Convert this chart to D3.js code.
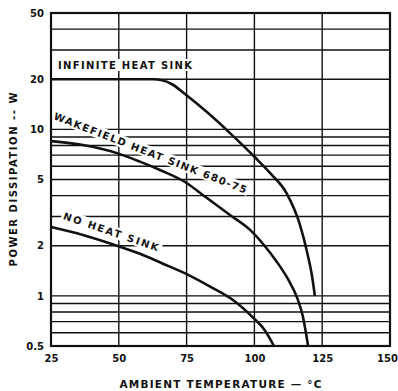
<!DOCTYPE html>
<html>
<head>
<meta charset="utf-8">
<script src="https://cdn.jsdelivr.net/npm/d3@7"></script>
<style>
  html, body { margin: 0; padding: 0; background: #fff; }
  svg { display: block; }
  text { font-family: "DejaVu Sans", "Liberation Sans", sans-serif; font-weight: bold; fill: #111; }
</style>
</head>
<body>
<svg id="chart" width="398" height="391"></svg>
<script>
// Power derating curves for three mounting conditions
const xTicks = [25, 50, 75, 100, 125, 150];
const yTicks = [50, 20, 10, 5, 2, 1, 0.5];
const yGrid = [50, 40, 30, 20, 10, 9, 8, 7, 6, 5, 4, 3, 2, 1, 0.9, 0.8, 0.7, 0.6, 0.5];

const infTemp  = [25, 62.6, 66, 69.8, 74.4, 82.5, 91.0, 100.2, 106.1, 112.0, 116.8, 119.4, 121.2, 122.3];
const infPower = [20, 20, 19.7, 18.6, 16.3, 12.7, 9.5, 6.8, 5.4, 4.1, 2.67, 1.84, 1.33, 1.0];

const wakeTemp  = [25, 36.8, 49.3, 57.8, 65.2, 74.4, 82.5, 91.0, 98.4, 103.2, 108.3, 112.4, 115.7, 117.9, 119.8];
const wakePower = [8.5, 8.05, 7.2, 6.4, 5.7, 4.83, 3.87, 3.06, 2.49, 2.05, 1.60, 1.26, 0.98, 0.75, 0.5];

const noneTemp  = [25, 36.8, 49.3, 57.8, 65.9, 76.3, 84.0, 92.1, 99.5, 103.9, 107.2];
const nonePower = [2.59, 2.32, 2.0, 1.79, 1.57, 1.32, 1.13, 0.944, 0.74, 0.62, 0.5];

const svg = d3.select("#chart");
const m = { left: 51, right: 8, top: 13, bottom: 45 };
const W = 398, H = 391;

const x = d3.scaleLinear().domain([25, 150]).range([m.left, W - m.right]);
const y = d3.scaleLog().domain([0.5, 50]).range([H - m.bottom, m.top]);

const ink = "#111";

// grid
const grid = svg.append("g");
grid.selectAll("line.h").data(yGrid).join("line")
  .attr("class", "h")
  .attr("x1", x(25)).attr("x2", x(150))
  .attr("y1", d => y(d)).attr("y2", d => y(d))
  .attr("stroke", ink).attr("stroke-width", 1.4);
grid.selectAll("line.v").data(xTicks).join("line")
  .attr("class", "v")
  .attr("x1", d => x(d)).attr("x2", d => x(d))
  .attr("y1", y(0.5)).attr("y2", y(50))
  .attr("stroke", ink).attr("stroke-width", 1.4);

// axes (labels only; the frame and grid act as axis lines)
const xAxis = d3.axisBottom(x).tickValues(xTicks).tickSize(0).tickPadding(9).tickFormat(d3.format("d"));
const gx = svg.append("g").attr("transform", `translate(0,${y(0.5)})`).call(xAxis);
gx.select(".domain").remove();
gx.selectAll("text").attr("font-size", 10).attr("font-family", null).attr("fill", ink);
// last label sits against the right edge of the page
gx.selectAll(".tick").filter(d => d === 150).select("text").attr("dx", -3);

const yAxis = d3.axisLeft(y).tickValues(yTicks).tickSize(0).tickPadding(7).tickFormat(d => String(d));
const gy = svg.append("g").attr("transform", `translate(${x(25)},0)`).call(yAxis);
gy.select(".domain").remove();
gy.selectAll("text").attr("font-size", 10).attr("font-family", null).attr("fill", ink);

// curve labels on a white band that interrupts the grid
function label(txt, px, py, angle, len) {
  const g = svg.append("g").attr("transform", `translate(${px},${py}) rotate(${angle})`);
  const bg = g.append("rect").attr("fill", "#fff");
  const t = g.append("text")
    .attr("font-size", 10)
    .attr("textLength", len).attr("lengthAdjust", "spacing")
    .text(txt);
  const b = t.node().getBBox();
  bg.attr("x", b.x - 2).attr("y", b.y - 1).attr("width", b.width + 4).attr("height", b.height + 1);
}
label("INFINITE HEAT SINK", 58, 69, 0, 134);
label("WAKEFIELD HEAT SINK 680-75", 53, 119, 21.2, 206);
label("NO HEAT SINK", 62.5, 219, 18.8, 100);

// frame
svg.append("rect")
  .attr("x", x(25)).attr("y", y(50))
  .attr("width", x(150) - x(25)).attr("height", y(0.5) - y(50))
  .attr("fill", "none").attr("stroke", ink).attr("stroke-width", 2.2);

// curves
const line = d3.line().x(d => x(d[0])).y(d => y(d[1])).curve(d3.curveMonotoneX);
const series = [
  d3.zip(infTemp, infPower),
  d3.zip(wakeTemp, wakePower),
  d3.zip(noneTemp, nonePower)
];
svg.selectAll("path.curve").data(series).join("path")
  .attr("class", "curve")
  .attr("d", line)
  .attr("fill", "none").attr("stroke", ink).attr("stroke-width", 2.6)
  .attr("stroke-linejoin", "round");

// axis titles
svg.append("text")
  .attr("x", (x(25) + x(150)) / 2).attr("y", 388)
  .attr("text-anchor", "middle").attr("font-size", 10.5)
  .attr("textLength", 202).attr("lengthAdjust", "spacing")
  .text("AMBIENT TEMPERATURE — °C");

svg.append("text")
  .attr("transform", `translate(17,${(y(0.5) + y(50)) / 2}) rotate(-90)`)
  .attr("text-anchor", "middle").attr("font-size", 10)
  .attr("textLength", 174).attr("lengthAdjust", "spacing")
  .text("POWER DISSIPATION -- W");
</script>
</body>
</html>
